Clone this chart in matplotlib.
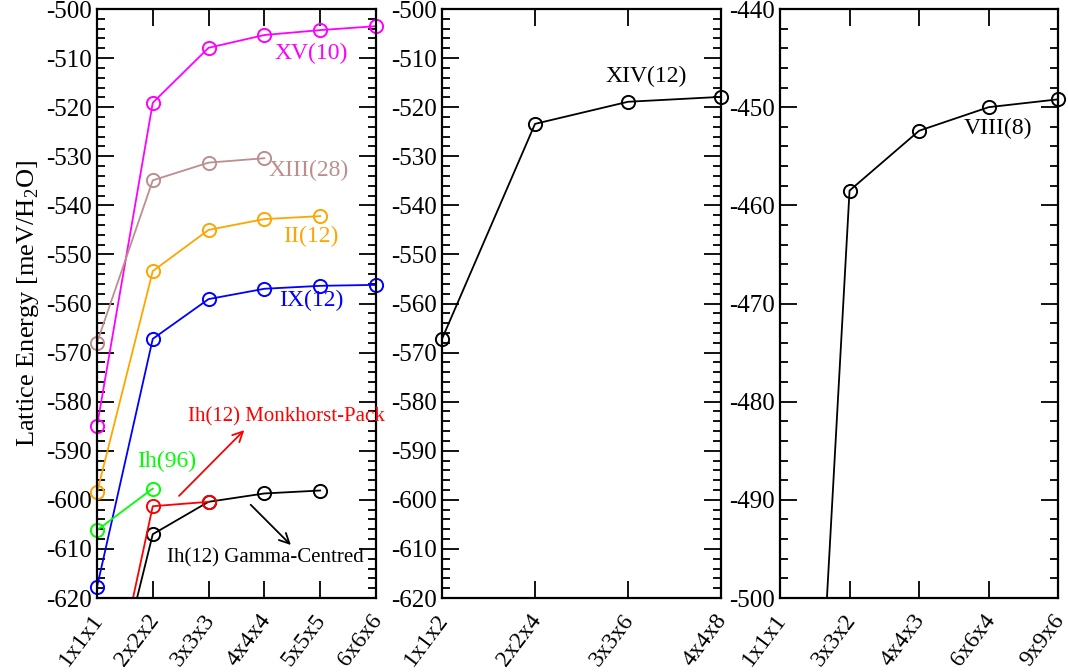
import matplotlib
matplotlib.use("Agg")
import matplotlib.pyplot as plt

plt.rcParams['font.family'] = ['Liberation Serif', 'DejaVu Serif']
plt.rcParams['mathtext.fontset'] = 'custom'
plt.rcParams['mathtext.rm'] = 'Liberation Serif'
plt.rcParams['axes.unicode_minus'] = False

# panel 1: k-point grids
grid1 = ["1x1x1", "2x2x2", "3x3x3", "4x4x4", "5x5x5", "6x6x6"]
xv_10 = [-585.0, -519.1, -507.9, -505.3, -504.3, -503.5]
xiii_28 = [-568.0, -534.9, -531.3, -530.4]
ii_12 = [-598.5, -553.4, -545.0, -542.8, -542.2]
ix_12 = [-617.8, -567.2, -559.1, -557.0, -556.4, -556.2]
ih_96 = [-606.2, -597.7]
ih_12_mp = [-654.1, -601.3, -600.4]
ih_12_gc = [-653.1, -607.0, -600.4, -598.7, -598.1]

# panel 2
grid2 = ["1x1x2", "2x2x4", "3x3x6", "4x4x8"]
xiv_12 = [-567.2, -523.4, -518.9, -517.9]

# panel 3
grid3 = ["1x1x1", "3x3x2", "4x4x3", "6x6x4", "9x9x6"]
viii_8 = [-586.2, -458.5, -452.4, -450.0, -449.2]

fig = plt.figure(figsize=(10.68, 6.72), dpi=100)
ax1 = fig.add_axes([0.0908, 0.1101, 0.2612, 0.8765])
ax2 = fig.add_axes([0.4139, 0.1101, 0.2612, 0.8765])
ax3 = fig.add_axes([0.7303, 0.1101, 0.2606, 0.8765])


def series(ax, vals, color, ylim):
    xs = list(range(1, len(vals) + 1))
    # line is clipped to the axes, circles on the frame are drawn whole
    ax.plot(xs, vals, color=color, lw=1.3)
    px = [x for x, v in zip(xs, vals) if ylim[0] <= v <= ylim[1]]
    pv = [v for v in vals if ylim[0] <= v <= ylim[1]]
    ax.plot(px, pv, ls='none', marker='o', mfc='none', mec=color,
            ms=9.5, mew=1.4, clip_on=False)


lim1 = (-620, -500)
lim3 = (-500, -440)
series(ax1, xv_10, '#ff00ff', lim1)
series(ax1, xiii_28, '#bc8f8f', lim1)
series(ax1, ii_12, '#ffa500', lim1)
series(ax1, ix_12, '#0000ff', lim1)
series(ax1, ih_96, '#00ff00', lim1)
series(ax1, ih_12_gc, 'black', lim1)
series(ax1, ih_12_mp, '#ff0000', lim1)
series(ax2, xiv_12, 'black', lim1)
series(ax3, viii_8, 'black', lim3)

# labels in panel 1
ax1.text(4.835, -509.0, "XV(10)", color='#ff00ff', fontsize=17, ha='center', va='center')
ax1.text(4.79, -532.8, "XIII(28)", color='#bc8f8f', fontsize=17, ha='center', va='center')
ax1.text(4.83, -546.3, "II(12)", color='#ffa500', fontsize=17, ha='center', va='center')
ax1.text(4.85, -559.3, "IX(12)", color='#0000ff', fontsize=17, ha='center', va='center')
ax1.text(2.257, -592.2, "Ih(96)", color='#00ff00', fontsize=17, ha='center', va='center')
ax1.text(2.64, -583.1, "Ih(12) Monkhorst-Pack", color='#ff0000', fontsize=15,
         ha='left', va='center', clip_on=False)
ax1.text(2.257, -611.9, "Ih(12) Gamma-Centred", color='black', fontsize=15,
         ha='left', va='center', clip_on=False)
ax1.annotate("", xy=(3.675, -585.4), xytext=(2.436, -599.6),
             arrowprops=dict(arrowstyle='->', color='#ff0000', lw=1.3,
                             mutation_scale=18))
ax1.annotate("", xy=(4.51, -609.6), xytext=(3.72, -600.6),
             arrowprops=dict(arrowstyle='->', color='black', lw=1.3,
                             mutation_scale=18))

ax2.text(3.19, -513.8, "XIV(12)", color='black', fontsize=17, ha='center', va='center')
ax3.text(4.14, -452.2, "VIII(8)", color='black', fontsize=17, ha='center', va='center')

ax1.set_ylabel("Lattice Energy [meV/H$_2$O]", fontsize=19, labelpad=4)


def style(ax, labels, ylim, yticks):
    ax.set_xlim(1, len(labels))
    ax.set_ylim(*ylim)
    ax.set_xticks(range(1, len(labels) + 1))
    ax.set_xticklabels(labels, rotation=53, ha='right', va='center_baseline',
                       rotation_mode='anchor', fontsize=17)
    ax.set_yticks(yticks)
    ax.set_yticks(range(ylim[0], ylim[1] + 1, 2), minor=True)
    ax.tick_params(axis='y', labelsize=18)
    ax.tick_params(which='major', direction='in', length=12, width=1.3,
                   top=True, right=True)
    ax.tick_params(which='minor', direction='in', length=6, width=1.3,
                   top=False, right=True)
    ax.tick_params(axis='x', which='minor', bottom=False, top=False)
    ax.tick_params(axis='x', pad=12)
    for s in ax.spines.values():
        s.set_linewidth(1.6)


style(ax1, grid1, lim1, range(-620, -499, 10))
style(ax2, grid2, lim1, range(-620, -499, 10))
style(ax3, grid3, lim3, range(-500, -439, 10))

fig.savefig("out.png", dpi=100)
